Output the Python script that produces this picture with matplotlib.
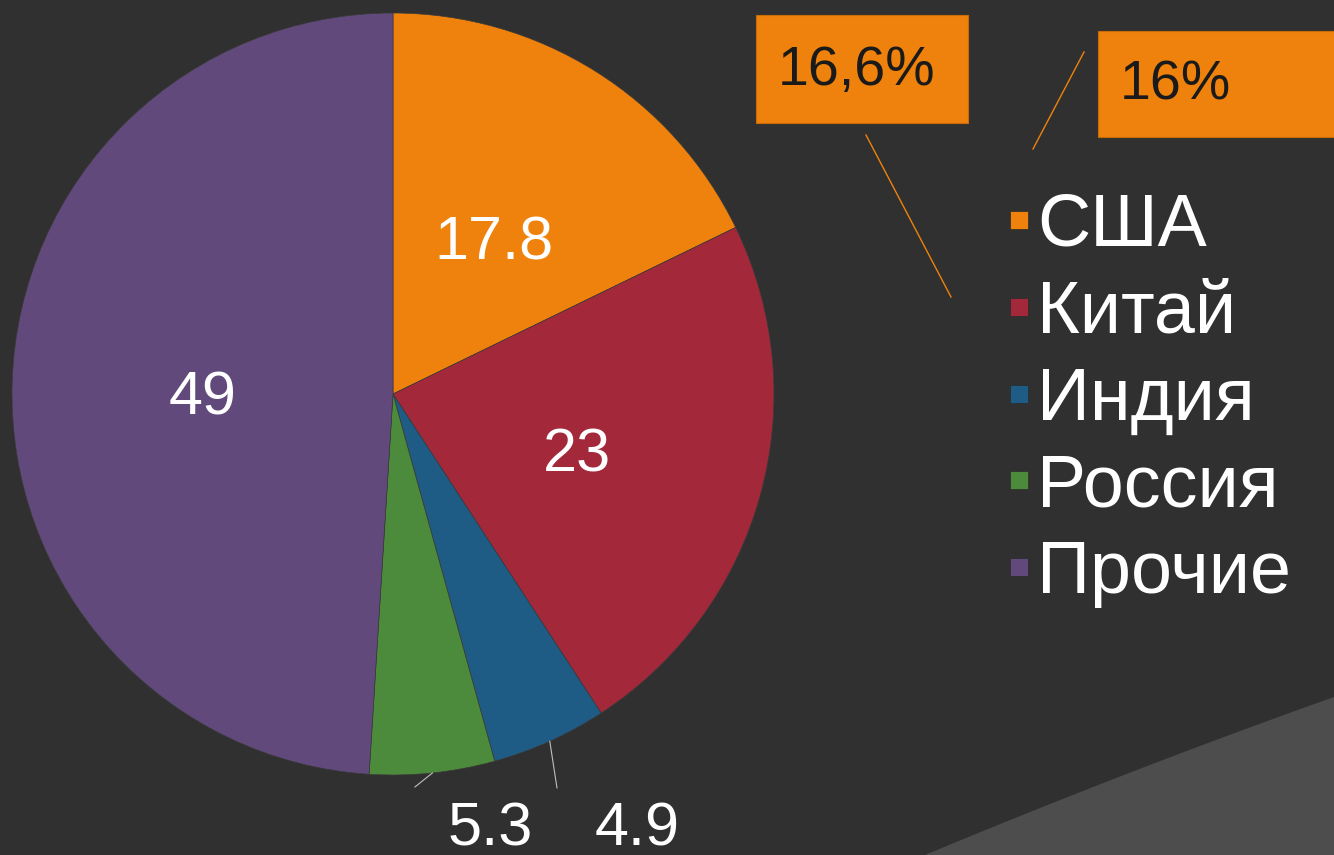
import numpy as np
import matplotlib
matplotlib.use("Agg")
import matplotlib.pyplot as plt
from matplotlib.patches import Rectangle, Polygon
from matplotlib.lines import Line2D

plt.rcParams['font.family'] = ['Liberation Sans', 'DejaVu Sans']

# ---------------------------------------------------------------- DATA
countries = ['США', 'Китай', 'Индия', 'Россия', 'Прочие']
shares = [17.8, 23, 4.9, 5.3, 49]
value_labels = ['17.8', '23', '4.9', '5.3', '49']
colors = ['#ef820c', '#a3283a', '#1e5c86', '#4d8b3c', '#614a7b']
callouts = ['16,6%', '16%']

BG = '#303030'
W, H = 1334, 855

fig = plt.figure(figsize=(W / 100, H / 100), dpi=100)
fig.patch.set_facecolor(BG)

# decorative lighter band in the lower right corner (slide background)
t = np.linspace(0, 1, 60)
xs = 925 + (1334 - 925) * t
ys = 855 - (855 - 697) * (t * 1.08 - 0.08 * t ** 2)
band = [(x / W, 1 - y / H) for x, y in zip(xs, ys)] + [(1, 0), (925 / W, 0)]
fig.patches.append(Polygon(band, closed=True, transform=fig.transFigure,
                           facecolor='#4d4d4d', edgecolor='none', zorder=0))

# ---------------------------------------------------------------- PIE
cx, cy, r = 393, 394, 381
ax = fig.add_axes([(cx - r) / W, (H - cy - r) / H, 2 * r / W, 2 * r / H])
ax.set_facecolor('none')
wedges, _ = ax.pie(shares, colors=colors, startangle=90, counterclock=False,
                   wedgeprops=dict(edgecolor='#3a3a3a', linewidth=0.5))
ax.set_xlim(-1, 1)
ax.set_ylim(-1, 1)
ax.set_aspect('equal')
ax.axis('off')

txt = dict(color='white', fontsize=44, ha='center', va='center',
           textcoords='offset pixels', annotation_clip=False)
for w, lab, v in zip(wedges, value_labels, shares):
    mid = np.deg2rad((w.theta1 + w.theta2) / 2)
    if v > 10:
        ax.annotate(lab, (0.5 * np.cos(mid), 0.5 * np.sin(mid)), xytext=(0, -11), **txt)

# small slices: labels below the pie with leader lines
outside = {'Индия': (0.64, -1.145, -67.4, 1.12), 'Россия': (0.255, -1.145, -86.8, 1.033)}
for w, name, lab in zip(wedges, countries, value_labels):
    if name in outside:
        tx, ty, a_end, r_end = outside[name]
        mid = np.deg2rad((w.theta1 + w.theta2) / 2)
        a2 = np.deg2rad(a_end)
        ax.plot([np.cos(mid), r_end * np.cos(a2)], [np.sin(mid), r_end * np.sin(a2)],
                color='#bfbfbf', lw=0.8, clip_on=False)
        ax.annotate(lab, (tx, ty), xytext=(0, 0), **txt)

# ---------------------------------------------------------------- LEGEND
handles = [Line2D([], [], marker='s', linestyle='none', markersize=13,
                  markerfacecolor=c, markeredgecolor='#2a2a2a', markeredgewidth=0.5)
           for c in colors]
leg = fig.legend(handles, countries, loc='upper left', bbox_to_anchor=(1008 / W, 1 - 192 / H),
                 frameon=False, fontsize=53, labelcolor='white',
                 handlelength=0.3, handletextpad=0.1,
                 labelspacing=0.24, borderpad=0, borderaxespad=0)

# ---------------------------------------------------------------- ORANGE CALLOUTS
boxes = [(756, 15, 212, 108, 778), (1098, 31, 260, 106, 1120)]
for (bx, by, bw, bh, tx), lab in zip(boxes, callouts):
    fig.patches.append(Rectangle((bx / W, 1 - (by + bh) / H), bw / W, bh / H,
                                 transform=fig.transFigure, facecolor='#ef820c',
                                 edgecolor='#c86a08', lw=0.8, zorder=2))
    fig.text(tx / W, 1 - (by + bh / 2 + 2) / H, lab, color='#1a1a1a', fontsize=40,
             ha='left', va='center', zorder=3)

for (x1, y1, x2, y2) in [(866, 135, 951, 297), (1084, 52, 1033, 149)]:
    fig.add_artist(Line2D([x1 / W, x2 / W], [1 - y1 / H, 1 - y2 / H],
                          transform=fig.transFigure, color='#ef820c', lw=1))

fig.savefig('out.png', dpi=100, facecolor=BG)
